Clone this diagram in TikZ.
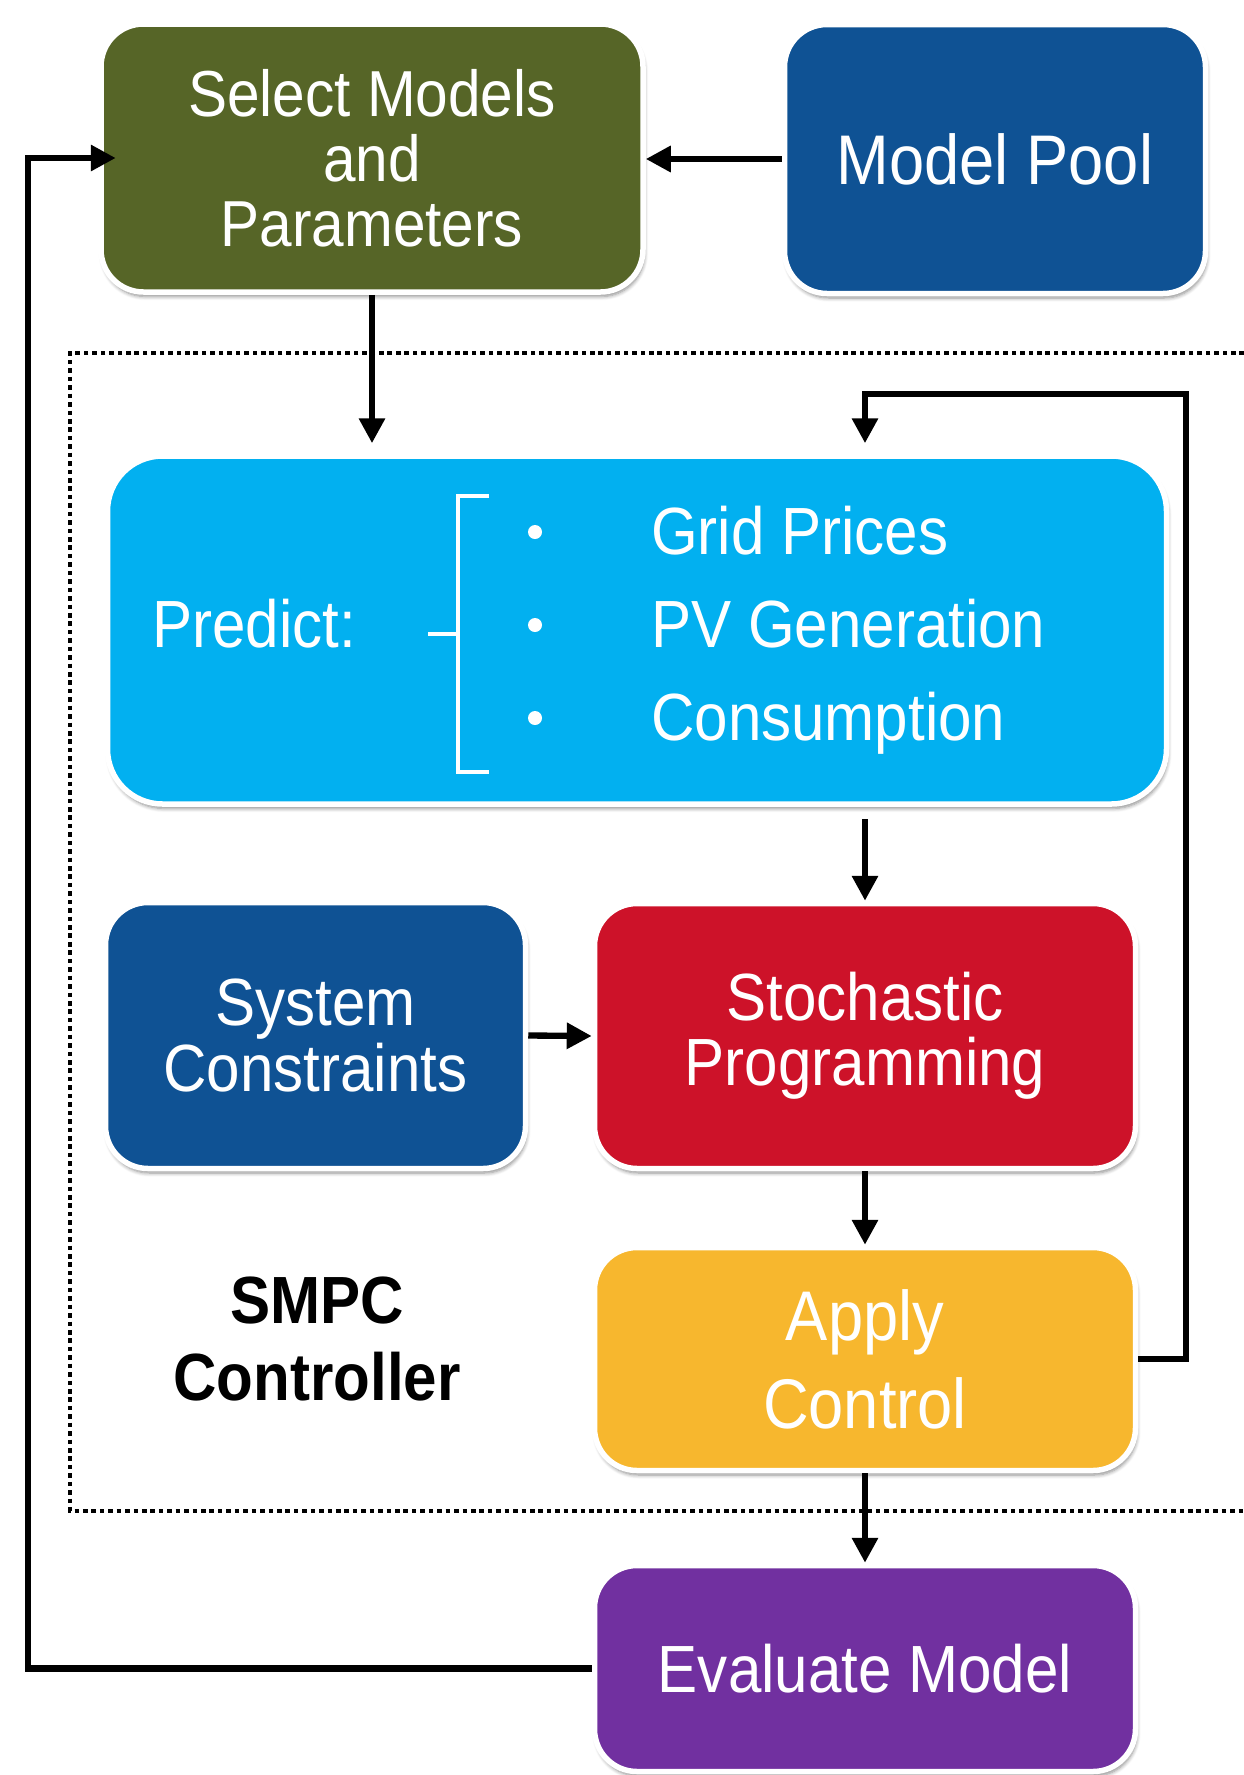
\documentclass[tikz,border=0pt]{standalone}
\usepackage{fontspec}
\setmainfont{Liberation Sans}[FakeStretch=0.9]
\usetikzlibrary{arrows.meta}
\usetikzlibrary{shadows.blur}

\definecolor{selgreen}{RGB}{86,101,39}
\definecolor{poolblue}{RGB}{15,82,148}
\definecolor{predcyan}{RGB}{2,176,240}
\definecolor{stochred}{RGB}{205,18,41}
\definecolor{applyyellow}{RGB}{247,183,46}
\definecolor{evalpurple}{RGB}{113,48,160}

\begin{document}
\begin{tikzpicture}[
block/.style={
draw=white,
line width=0.11cm,
rounded corners=0.85cm,
text=white,
align=center,
inner sep=0pt,
font=\fontsize{38}{37}\selectfont,
blur shadow={shadow xshift=0.03cm, shadow yshift=-0.09cm, shadow blur steps=6, shadow blur extra rounding=0.05cm, shadow opacity=45}
},
flow/.style={
line width=3.6pt,
-{Triangle[width=0.5cm,length=0.5cm]}
},
item/.style={
anchor=base west,
text=white,
font=\fontsize{38}{40}\selectfont
}
]

\useasboundingbox (0,0) rectangle (24.88,-35.5);

\draw[line width=2.2pt, dash pattern=on 2.6pt off 2.2pt] (24.88,-7.06) -- (1.4,-7.06) -- (1.4,-30.22) -- (24.88,-30.22);

\node[block, fill=selgreen, minimum width=10.84cm, minimum height=5.36cm, font=\fontsize{37}{37}\selectfont] (select) at (7.44,-3.16) {Select Models\\and\\Parameters};
\node[block, fill=poolblue, minimum width=8.42cm, minimum height=5.38cm, font=\fontsize{40}{40}\selectfont] (pool) at (19.9,-3.18) {Model Pool};

\node[block, fill=predcyan, rounded corners=1.1cm, minimum width=21.18cm, minimum height=6.96cm] (predict) at (12.74,-12.6) {};
\node[item] (predlabel) at (2.92,-12.95) {Predict:};
\node[item] (grid) at (12.9,-11.09) {Grid Prices};
\node[item] (pv) at (12.9,-12.95) {PV Generation};
\node[item] (cons) at (12.9,-14.81) {Consumption};
\foreach \n in {grid,pv,cons}
  \fill[white] ([shift={(-2.2,0.45)}]\n.base west) circle (0.14);
\draw[white, line width=2pt] (9.78,-9.92) -- (9.16,-9.92) -- (9.16,-15.44) -- (9.78,-15.44)
  (8.56,-12.68) -- (9.16,-12.68);

\node[block, fill=poolblue, minimum width=8.4cm, minimum height=5.32cm] (sys) at (6.31,-20.71) {System\\Constraints};
\node[block, fill=stochred, minimum width=10.82cm, minimum height=5.3cm] (stoch) at (17.3,-20.72) {Stochastic\\Programming};
\node[block, fill=applyyellow, minimum width=10.82cm, minimum height=4.46cm, font=\fontsize{40}{50}\selectfont] (apply) at (17.3,-27.18) {Apply\\Control};
\node[block, fill=evalpurple, minimum width=10.82cm, minimum height=4.12cm] (eval) at (17.3,-33.37) {Evaluate Model};

\node[font=\bfseries\fontsize{38}{44}\selectfont, align=center] (smpc) at (6.34,-26.78) {SMPC\\Controller};

\coordinate (loopr) at (23.72,-7.88);
\coordinate (loopl) at (0.56,-33.32);

\draw[flow] (pool.west) -- (pool.west -| select.east);
\draw[flow, shorten >=0.2cm] (select.south) -- (select.south |- predict.north);
\draw[flow, shorten <=0.25cm] (predict.south -| stoch.north) -- (stoch.north);
\draw[flow] (sys.east) -- (stoch.west);
\draw[flow] (stoch.south) -- (apply.north);
\draw[flow] (apply.south) -- (eval.north);
\draw[flow, shorten >=0.2cm] (apply.east) -| (loopr) -| (predict.north -| stoch.north);
\draw[flow, shorten >=-0.35cm] (eval.west) -- (eval.west -| loopl) |- (select.west);

\end{tikzpicture}
\end{document}
